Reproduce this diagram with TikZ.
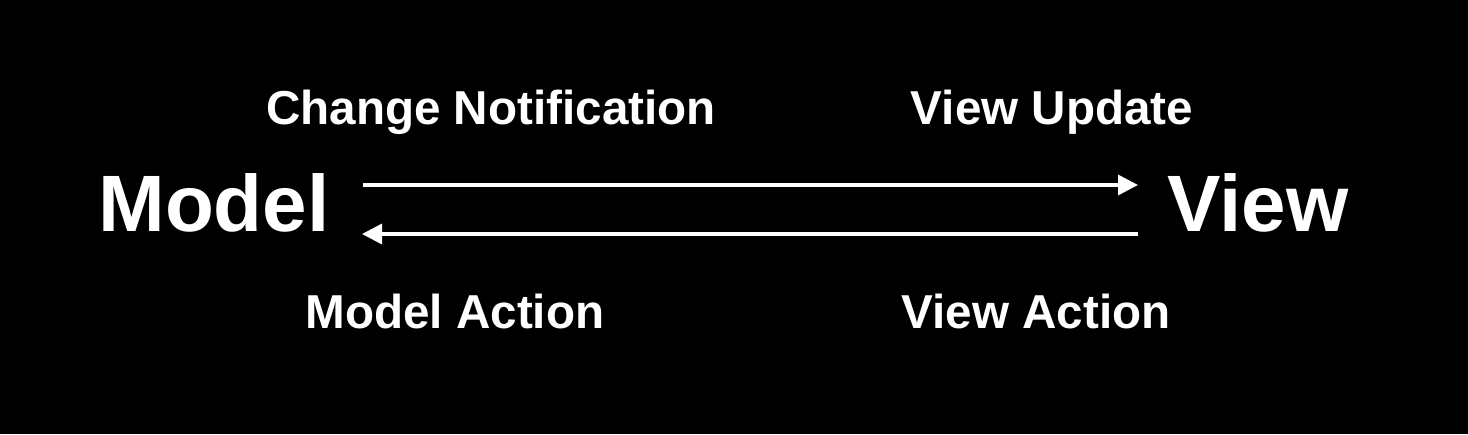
\documentclass[tikz,border=0pt]{standalone}
\usepackage{fontspec}
\setmainfont{Liberation Sans}
\usetikzlibrary{arrows.meta}
\begin{document}
\begin{tikzpicture}[x=0.5pt,y=-0.5pt,
  big/.style={text=white,font=\fontsize{40}{40}\bfseries\selectfont,inner sep=0pt,anchor=base},
  lbl/.style={text=white,font=\fontsize{23.8}{24}\bfseries\selectfont,inner sep=0pt,anchor=base},
  conn/.style={draw=white,line width=1.7pt,-{Triangle[length=10pt,width=10pt]}}]
\fill[black] (0,0) rectangle (1468,434);
\useasboundingbox (0,0) rectangle (1468,434);
\node[big] (model) at (214,231) {Model};
\node[big] (view) at (1258,231) {View};
\coordinate (a1s) at (363,185);
\coordinate (a1e) at (1138,185);
\coordinate (a2s) at (1138,234);
\coordinate (a2e) at (362,234);
\draw[conn] (a1s) -- (a1e);
\draw[conn] (a2s) -- (a2e);
\node[lbl] (cn) at (491,124) {Change Notification};
\node[lbl] (vu) at (1052,124) {View Update};
\node[lbl] (ma) at (455,328) {Model Action};
\node[lbl] (va) at (1036,328) {View Action};
\end{tikzpicture}
\end{document}
